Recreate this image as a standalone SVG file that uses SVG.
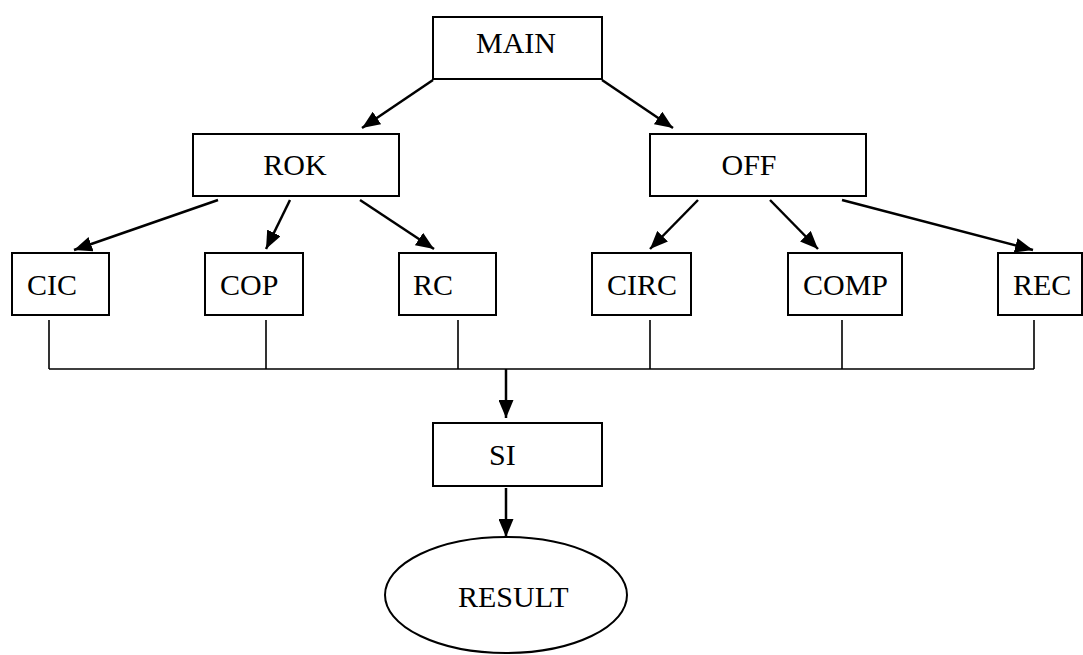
<svg xmlns="http://www.w3.org/2000/svg" width="1083" height="655" viewBox="0 0 1083 655">
<defs>
<marker id="ah" viewBox="0 0 18 15" refX="18" refY="7.5" markerWidth="18" markerHeight="15" markerUnits="userSpaceOnUse" orient="auto">
<path d="M0,0 L18,7.5 L0,15 Z" fill="#000"/>
</marker>
</defs>
<style>
.box{fill:#fff;stroke:#000;stroke-width:2}
.t{font-family:"Liberation Serif","Times New Roman",serif;font-size:30px;fill:#000}
.arr{stroke:#000;stroke-width:2.5;fill:none;marker-end:url(#ah)}
.bus{stroke:#000;stroke-width:1.6;fill:none}
</style>
<rect width="1083" height="655" fill="#fff"/>
<g id="connectors">
<line class="arr" x1="433" y1="80" x2="362" y2="128"/>
<line class="arr" x1="602" y1="80" x2="673" y2="128"/>
<line class="arr" x1="218" y1="200" x2="74" y2="250"/>
<line class="arr" x1="290" y1="200" x2="266" y2="249"/>
<line class="arr" x1="360" y1="200" x2="434" y2="249"/>
<line class="arr" x1="698" y1="200" x2="650" y2="249"/>
<line class="arr" x1="770" y1="200" x2="818" y2="249"/>
<line class="arr" x1="842" y1="200" x2="1033" y2="250"/>
<path class="bus" d="M49,320 V369 M266,320 V369 M458,320 V369 M650,320 V369 M842,320 V369 M1034,320 V369 M49,369 H1034"/>
<line class="arr" x1="506" y1="369" x2="506" y2="418"/>
<line class="arr" x1="506" y1="488" x2="506" y2="537"/>
</g>
<g id="MAIN"><rect class="box" x="433" y="17" width="169" height="62"/><text class="t" x="516" y="53" text-anchor="middle">MAIN</text></g>
<g id="ROK"><rect class="box" x="193" y="134" width="206" height="62"/><text class="t" x="295" y="175" text-anchor="middle">ROK</text></g>
<g id="OFF"><rect class="box" x="650" y="134" width="216" height="62"/><text class="t" x="749" y="175" text-anchor="middle">OFF</text></g>
<g id="CIC"><rect class="box" x="12" y="253" width="97" height="62"/><text class="t" x="27" y="295">CIC</text></g>
<g id="COP"><rect class="box" x="205" y="253" width="98" height="62"/><text class="t" x="220" y="295">COP</text></g>
<g id="RC"><rect class="box" x="399" y="253" width="97" height="62"/><text class="t" x="413" y="295">RC</text></g>
<g id="CIRC"><rect class="box" x="592" y="253" width="99" height="62"/><text class="t" x="607" y="295">CIRC</text></g>
<g id="COMP"><rect class="box" x="788" y="253" width="114" height="62"/><text class="t" x="803" y="295">COMP</text></g>
<g id="REC"><rect class="box" x="998" y="253" width="84" height="62"/><text class="t" x="1013" y="295">REC</text></g>
<g id="SI"><rect class="box" x="433" y="423" width="169" height="63"/><text class="t" x="489" y="465">SI</text></g>
<g id="RESULT"><ellipse class="box" cx="506" cy="595" rx="121" ry="58"/><text class="t" x="458" y="607">RESULT</text></g>
</svg>
